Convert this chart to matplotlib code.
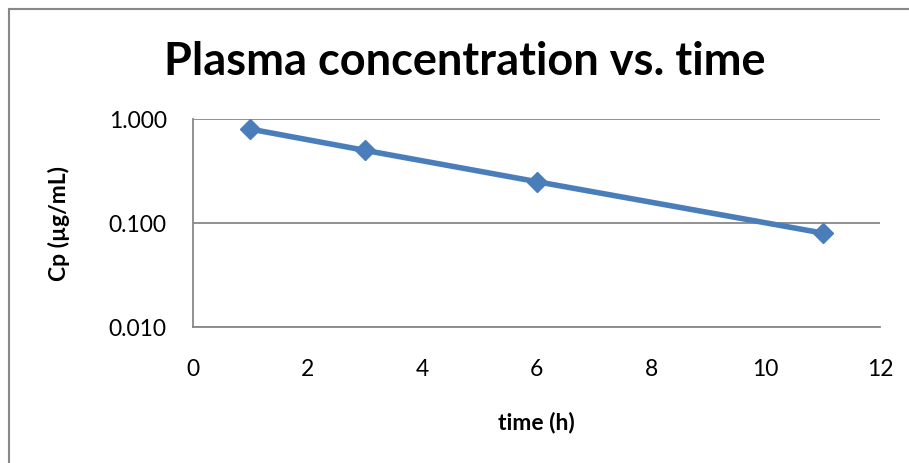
import matplotlib
matplotlib.use('Agg')
import matplotlib.pyplot as plt
from matplotlib.lines import Line2D

# sampling times (h) and plasma concentration (ug/mL)
time_h = [1, 3, 6, 11]
cp = [0.8, 0.5, 0.25, 0.08]
yticks = [0.01, 0.1, 1.0]
ytick_labels = ['0.010', '0.100', '1.000']
xticks = [0, 2, 4, 6, 8, 10, 12]

plt.rcParams['font.family'] = ['Lato', 'DejaVu Sans']

W, H = 909, 463
fig = plt.figure(figsize=(W / 100, H / 100), dpi=100)
ax = fig.add_axes([193 / W, 1 - 327 / H, (880 - 193) / W, (327 - 119) / H])

ax.plot(time_h, cp, color='#4A7EBB', lw=4, marker='D', ms=10,
        markerfacecolor='#4A7EBB', markeredgecolor='#4A7EBB', zorder=3)

ax.set_yscale('log')
ax.set_ylim(0.01, 1.0)
ax.set_xlim(0, 12)
ax.set_yticks(yticks)
ax.set_yticklabels(ytick_labels)
ax.minorticks_off()
ax.set_xticks(xticks)
ax.tick_params(length=0, labelsize=16.5, colors='black')
ax.tick_params(axis='y', pad=19)
ax.tick_params(axis='x', pad=23)
ax.grid(axis='y', color='#888888', lw=1.3)
for s in ['top', 'right']:
    ax.spines[s].set_visible(False)
for s in ['left', 'bottom']:
    ax.spines[s].set_color('#888888')
    ax.spines[s].set_linewidth(1.3)

ax.set_xlabel('time (h)', fontsize=16.5, fontweight='bold', labelpad=23)
ax.set_ylabel('Cp (µg/mL)', fontsize=16.5, fontweight='bold', labelpad=28)

fig.text(465 / W, 1 - 62 / H, 'Plasma concentration vs. time', ha='center', va='center',
         fontsize=32.5, fontweight='bold')

# outer chart border
fig.add_artist(Line2D([8.5 / W, 8.5 / W], [0, 1 - 8.5 / H], color='#888888', lw=1.5,
                      transform=fig.transFigure))
fig.add_artist(Line2D([8.5 / W, 1], [1 - 8.5 / H, 1 - 8.5 / H], color='#888888', lw=1.5,
                      transform=fig.transFigure))

fig.savefig('out.png', dpi=100)
